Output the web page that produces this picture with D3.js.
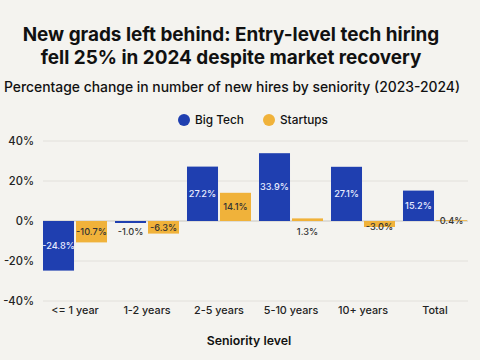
<!DOCTYPE html>
<html><head><meta charset="utf-8">
<script src="https://cdn.jsdelivr.net/npm/d3@7"></script>
<style>
html,body{margin:0;padding:0;background:#f4f3ef;}
svg{display:block;font-family:Inter,"Noto Sans",sans-serif;}
</style></head>
<body><svg id="c" width="480" height="360"></svg>
<script>
const categories = ["<= 1 year","1-2 years","2-5 years","5-10 years","10+ years","Total"];
const seriesNames = ["Big Tech","Startups"];
const bigTech = [-24.8,-1.0,27.2,33.9,27.1,15.2];
const startups = [-10.7,-6.3,14.1,1.3,-3.0,0.4];
const yTicks = [-40,-20,0,20,40];
const titleLines = ["New grads left behind: Entry-level tech hiring","fell 25% in 2024 despite market recovery"];
const subtitle = "Percentage change in number of new hires by seniority (2023-2024)";
const xTitle = "Seniority level";

const colors = {"Big Tech":"#1f3fb0","Startups":"#f0b23a"};
const svg = d3.select("#c");
svg.append("rect").attr("width",480).attr("height",360).attr("fill","#f4f3ef");

const tg = svg.append("g").attr("text-anchor","middle").attr("font-weight","700").attr("font-size",18.9).attr("fill","#111");
titleLines.forEach((t,i)=>tg.append("text").attr("x",231).attr("y",41+i*23).text(t));
svg.append("text").attr("x",232).attr("y",92).attr("text-anchor","middle").attr("font-size",13.9).attr("font-weight","500").attr("fill","#111").text(subtitle);

// legend
const leg = svg.append("g").attr("font-size",11.8).attr("font-weight","500").attr("fill","#111");
const legX = [184,269];
seriesNames.forEach((s,i)=>{
  leg.append("circle").attr("cx",legX[i]).attr("cy",120).attr("r",6).attr("fill",colors[s]);
  leg.append("text").attr("x",legX[i]+11).attr("y",124.3).text(s);
});

const x0 = d3.scaleBand().domain(categories).range([43,467]).paddingInner(0.111).paddingOuter(0);
const x1 = d3.scaleBand().domain(seriesNames).range([0,x0.bandwidth()]).paddingInner(0.06);
const y = d3.scaleLinear().domain([-40,40]).range([301,141]);

// grid
svg.append("g").selectAll("line").data(yTicks).join("line")
  .attr("x1",43).attr("x2",468).attr("y1",d=>y(d)).attr("y2",d=>y(d))
  .attr("stroke",d=>d===0?"#c8c6c0":"#e2e0db").attr("stroke-width",1);

// y axis
const yAxis = d3.axisLeft(y).tickValues(yTicks).tickSize(0).tickPadding(0).tickFormat(d=>d+"%");
const ya = svg.append("g").attr("transform","translate(34,0)").call(yAxis);
ya.select(".domain").remove();
ya.selectAll("text").attr("font-size",11.2).attr("font-weight","500").attr("font-family","Inter,'Noto Sans',sans-serif").attr("fill","#222").attr("dy","0.35em");

// x axis
const xAxis = d3.axisBottom(x0).tickSize(0).tickPadding(0);
const xa = svg.append("g").attr("transform","translate(0,305)").call(xAxis);
xa.select(".domain").remove();
xa.selectAll("text").attr("font-size",10.8).attr("font-weight","500").attr("font-family","Inter,'Noto Sans',sans-serif").attr("fill","#222").attr("dy","0.85em");

svg.append("text").attr("x",249).attr("y",345).attr("text-anchor","middle").attr("font-size",12.3).attr("font-weight","600").attr("fill","#111").text(xTitle);

const rows = [];
categories.forEach((c,i)=>{
  rows.push({cat:c,s:"Big Tech",v:bigTech[i]});
  rows.push({cat:c,s:"Startups",v:startups[i]});
});

svg.append("g").selectAll("rect").data(rows).join("rect")
  .attr("x",d=>x0(d.cat)+x1(d.s))
  .attr("width",x1.bandwidth())
  .attr("y",d=>y(Math.max(0,d.v)))
  .attr("height",d=>Math.abs(y(d.v)-y(0)))
  .attr("fill",d=>colors[d.s]);

svg.append("g").selectAll("text").data(rows).join("text")
  .attr("x",d=>x0(d.cat)+x1(d.s)+x1.bandwidth()/2)
  .attr("y",d=>{
    const h = Math.abs(y(d.v)-y(0));
    if (Math.abs(d.v) < 0.8) return y(0);
    if (Math.abs(d.v) < 2) return y(0)+11;
    if (h < 8) return y(0)+6;
    return (y(d.v)+y(0))/2;
  })
  .attr("dy","0.35em")
  .attr("text-anchor","middle")
  .attr("font-size",9.2)
  .attr("font-weight","500")
  .attr("fill",d=>{
    if (d.s==="Big Tech" && Math.abs(d.v)>=2) return "#e8ecff";
    return "#333";
  })
  .text(d=>d.v.toFixed(1)+"%");
</script></body></html>
